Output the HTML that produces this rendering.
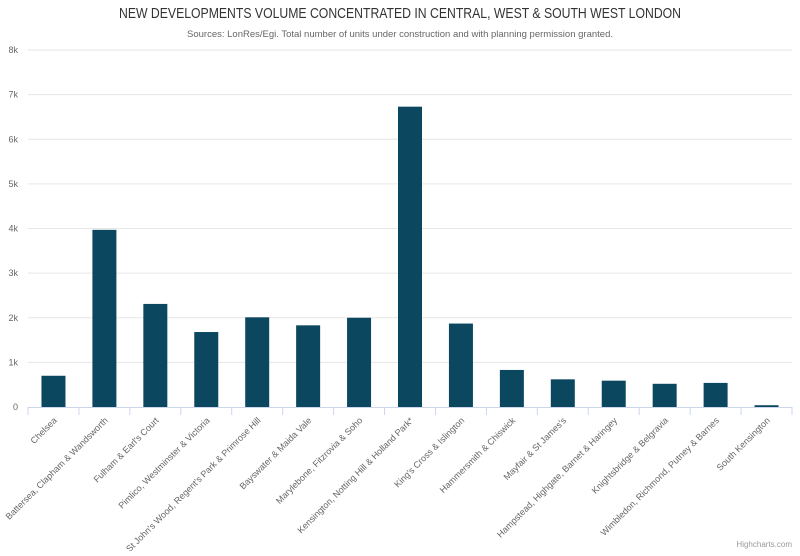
<!DOCTYPE html>
<html><head><meta charset="utf-8"><style>
body{margin:0;background:#fff;}
svg text{font-family:"Liberation Sans",sans-serif;}
</style></head><body>
<svg id="chart" width="800" height="551">
<text x="400" y="18" text-anchor="middle" font-size="15" fill="#333" textLength="562" lengthAdjust="spacingAndGlyphs">NEW DEVELOPMENTS VOLUME CONCENTRATED IN CENTRAL, WEST &amp; SOUTH WEST LONDON</text>
<text x="400" y="37" text-anchor="middle" font-size="9.5" fill="#666">Sources: LonRes/Egi. Total number of units under construction and with planning permission granted.</text>
<g id="grid"></g><g id="bars"></g><g id="xaxis"></g>
<text x="792" y="547" text-anchor="end" font-size="8" fill="#999">Highcharts.com</text>
</svg>
<script>
const categories=["Chelsea","Battersea, Clapham & Wandsworth","Fulham & Earl's Court","Pimlico, Westminster & Victoria","St John's Wood, Regent's Park & Primrose Hill","Bayswater & Maida Vale","Marylebone, Fitzrovia & Soho","Kensington, Notting Hill & Holland Park*","King's Cross & Islington","Hammersmith & Chiswick","Mayfair & St James's","Hampstead, Highgate, Barnet & Haringey","Knightsbridge & Belgravia","Wimbledon, Richmond, Putney & Barnes","South Kensington"];
const values=[700,3970,2310,1680,2010,1830,2000,6730,1870,830,620,590,520,540,40];
const yTicks=[0,1000,2000,3000,4000,5000,6000,7000,8000];
const yTickLabels=["0","1k","2k","3k","4k","5k","6k","7k","8k"];
const NS="http://www.w3.org/2000/svg";
const L=28,R=792,T=50,B=407,yMax=8000;
const y=v=>B-(v/yMax)*(B-T);
const cw=(R-L)/categories.length;
const x=i=>L+cw*i+cw/2;
function mk(tag,attrs,parent){const e=document.createElementNS(NS,tag);for(const k in attrs)e.setAttribute(k,attrs[k]);parent.appendChild(e);return e;}
const grid=document.getElementById('grid'),bars=document.getElementById('bars'),xa=document.getElementById('xaxis');
yTicks.forEach((t,i)=>{
 if(t>0){const l=mk('line',{x1:L,x2:R,y1:y(t),y2:y(t),stroke:'#e6e6e6'},grid);
 
 }
 const tx=mk('text',{x:18,y:y(t)+3,'text-anchor':'end','font-size':9,fill:'#666'},grid);
 tx.textContent=yTickLabels[i];
 
 
});
const ax=mk('line',{x1:L,x2:R,y1:B+0.5,y2:B+0.5,stroke:'#ccd6eb'},xa);


for(let i=0;i<=categories.length;i++){
 const tk=mk('line',{x1:L+cw*i,x2:L+cw*i,y1:B,y2:B+8,stroke:'#ccd6eb'},xa);
 
 
}
values.forEach((v,i)=>{
 const bw=24;
 const r=mk('rect',{x:x(i)-bw/2,y:y(v),width:bw,height:B-y(v),fill:'#0b4860'},bars);
 
 
 const t=mk('text',{x:x(i)+4,y:B+14,'text-anchor':'end','font-size':9,fill:'#666',transform:`rotate(-45 ${x(i)+4} ${B+14})`},xa);
 t.textContent=categories[i];
 
 
});
</script>
</body></html>
